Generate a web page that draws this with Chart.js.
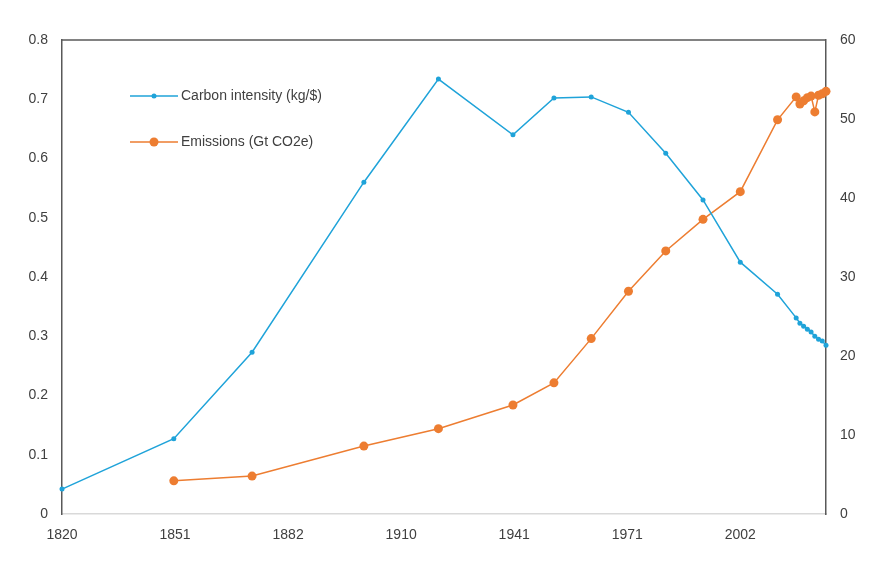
<!DOCTYPE html>
<html>
<head>
<meta charset="utf-8">
<script src="https://cdn.jsdelivr.net/npm/chart.js@4.4.0/dist/chart.umd.min.js"></script>
<style>
  html, body { margin: 0; padding: 0; background: #fff; }
  #wrap { width: 882px; height: 566px; }
</style>
</head>
<body>
<div id="wrap"><canvas id="myChart" width="882" height="566"></canvas></div>
<script>
// Data (x in axis years)
const years = [1820, 1850, 1871, 1901, 1921, 1941, 1952, 1962, 1972, 1982, 1992, 2002, 2012,
               2017, 2018, 2019, 2020, 2021, 2022, 2023, 2024, 2025];
const intensity = [0.042, 0.127, 0.273, 0.560, 0.734, 0.640, 0.702, 0.704, 0.678, 0.609, 0.530, 0.425, 0.371,
                   0.331, 0.322, 0.317, 0.312, 0.307, 0.300, 0.295, 0.292, 0.285];
const emissions = [null, 4.2, 4.8, 8.6, 10.8, 13.8, 16.6, 22.2, 28.2, 33.3, 37.3, 40.8, 49.9,
                   52.8, 51.9, 52.3, 52.7, 52.9, 50.9, 53.0, 53.2, 53.5];
const xTickLabels = ['1820', '1851', '1882', '1910', '1941', '1971', '2002'];
const leftTicks = [0, 0.1, 0.2, 0.3, 0.4, 0.5, 0.6, 0.7, 0.8];
const rightTicks = [0, 10, 20, 30, 40, 50, 60];

const blue = '#1fa3d9';
const orange = '#ed7d31';
const textColor = '#404040';
const font = { family: 'Liberation Sans, Arial, sans-serif', size: 14 };

const ctx = document.getElementById('myChart').getContext('2d');

// frame line on top + legend inside the plot
const extras = {
    id: 'extras',
    afterDraw(chart) {
        const c = chart.ctx;
        const a = chart.chartArea;
        c.save();
        c.strokeStyle = '#595959';
        c.lineWidth = 1.5;
        c.beginPath();
        c.moveTo(a.left, a.top);
        c.lineTo(a.right, a.top);
        c.stroke();

        const items = [
            { text: 'Carbon intensity (kg/$)', color: blue, r: 2.5, y: 96 },
            { text: 'Emissions (Gt CO2e)', color: orange, r: 4.5, y: 142 }
        ];
        c.font = '14px ' + font.family;
        c.textBaseline = 'middle';
        items.forEach(it => {
            c.strokeStyle = it.color;
            c.lineWidth = 1.5;
            c.beginPath();
            c.moveTo(130, it.y);
            c.lineTo(178, it.y);
            c.stroke();
            c.fillStyle = it.color;
            c.beginPath();
            c.arc(154, it.y, it.r, 0, Math.PI * 2);
            c.fill();
            c.fillStyle = textColor;
            c.fillText(it.text, 181, it.y);
        });
        c.restore();
    }
};

const data = {
    datasets: [
        {
            label: 'Carbon intensity (kg/$)',
            data: years.map((y, i) => ({ x: y, y: intensity[i] })),
            borderColor: blue,
            backgroundColor: blue,
            borderWidth: 1.5,
            pointRadius: 2.5,
            pointBorderWidth: 0,
            yAxisID: 'y',
            tension: 0,
            clip: false
        },
        {
            label: 'Emissions (Gt CO2e)',
            data: years.map((y, i) => ({ x: y, y: emissions[i] })),
            borderColor: orange,
            backgroundColor: orange,
            borderWidth: 1.5,
            pointRadius: 4.5,
            pointBorderWidth: 0,
            yAxisID: 'y1',
            tension: 0,
            clip: false
        }
    ]
};

const config = {
    type: 'line',
    data,
    plugins: [extras],
    options: {
        responsive: false,
        animation: false,
        layout: { padding: { top: 40, left: 0, right: 0, bottom: 0 } },
        plugins: {
            legend: { display: false },
            tooltip: { enabled: false }
        },
        scales: {
            x: {
                type: 'linear',
                min: 1820,
                max: 2025,
                afterBuildTicks: axis => {
                    axis.ticks = xTickLabels.map((l, i) => ({ value: 1820 + i * (2002 - 1820) / 6 }));
                },
                afterFit: axis => { axis.height = 52; },
                grid: { display: false, drawTicks: false },
                border: { display: true, color: '#d9d9d9', width: 1.5 },
                ticks: {
                    color: textColor,
                    font,
                    padding: 13,
                    maxRotation: 0,
                    autoSkip: false,
                    callback: (v, i) => xTickLabels[i]
                }
            },
            y: {
                position: 'left',
                min: 0,
                max: 0.8,
                afterBuildTicks: axis => { axis.ticks = leftTicks.map(v => ({ value: v })); },
                afterFit: axis => { axis.width = 62; },
                grid: { display: false, drawTicks: false },
                border: { display: true, color: '#595959', width: 1.5 },
                ticks: {
                    color: textColor,
                    font,
                    padding: 14,
                    callback: v => String(Math.round(v * 10) / 10)
                }
            },
            y1: {
                position: 'right',
                min: 0,
                max: 60,
                afterBuildTicks: axis => { axis.ticks = rightTicks.map(v => ({ value: v })); },
                afterFit: axis => { axis.width = 56; },
                grid: { display: false, drawTicks: false },
                border: { display: true, color: '#595959', width: 1.5 },
                ticks: {
                    color: textColor,
                    font,
                    padding: 14
                }
            }
        }
    }
};

let myChart = new Chart(ctx, config);
</script>
</body>
</html>
